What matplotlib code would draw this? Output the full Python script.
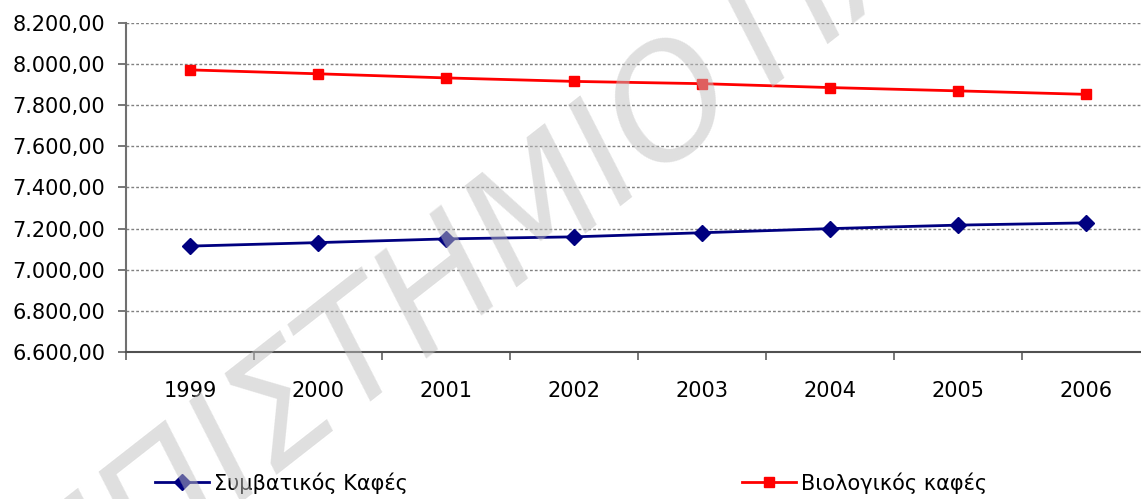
import matplotlib
matplotlib.use("Agg")
import matplotlib.pyplot as plt
from matplotlib.lines import Line2D
from matplotlib.ticker import FixedLocator, FuncFormatter

# Τιμές ανά έτος
eti = ["1999", "2000", "2001", "2002", "2003", "2004", "2005", "2006"]
symvatikos = [7115, 7132, 7150, 7160, 7180, 7200, 7217, 7228]
viologikos = [7972, 7953, 7933, 7916, 7905, 7886, 7870, 7853]

yticks = [6600, 6800, 7000, 7200, 7400, 7600, 7800, 8000, 8200]

plt.rcParams['font.family'] = ['DejaVu Sans']

fig = plt.figure(figsize=(11.41, 4.99), dpi=100)
ax = fig.add_axes([0.1104, 0.2946, 0.8975, 0.6593])

x = list(range(len(eti)))
ax.plot(x, symvatikos, color='#000080', lw=2, marker='D', ms=8, zorder=3)
ax.plot(x, viologikos, color='#ff0000', lw=2, marker='s', ms=7.5, zorder=3)

ax.set_xlim(-0.5, len(eti) - 0.5)
ax.set_ylim(6600, 8200)

# Άξονας y με ελληνική μορφή αριθμών
def greek_fmt(v, pos):
    s = f"{v:,.2f}"
    return s.replace(",", "X").replace(".", ",").replace("X", ".")

ax.yaxis.set_major_locator(FixedLocator(yticks))
ax.yaxis.set_major_formatter(FuncFormatter(greek_fmt))
ax.tick_params(axis='y', labelsize=15, length=6, width=1.2, color='#606060', pad=9)
ax.grid(axis='y', color='#808080', lw=1, linestyle=(0, (2, 1.5)))
ax.set_axisbelow(True)

# Άξονας x: γραμμές στα όρια, ετικέτες στο κέντρο
ax.xaxis.set_major_locator(FixedLocator([i - 0.5 for i in range(len(eti) + 1)]))
ax.xaxis.set_major_formatter(FuncFormatter(lambda v, p: ""))
ax.xaxis.set_minor_locator(FixedLocator(x))
ax.set_xticklabels(eti, minor=True)
ax.tick_params(axis='x', which='major', length=6, width=1.2, color='#606060')
ax.tick_params(axis='x', which='minor', length=0, labelsize=15, pad=21)

for side in ['top', 'right']:
    ax.spines[side].set_visible(False)
ax.spines['left'].set_color('#707070')
ax.spines['left'].set_linewidth(1.5)
ax.spines['bottom'].set_color('#505050')
ax.spines['bottom'].set_linewidth(1.5)

handles = [
    Line2D([], [], color='#000080', lw=2, marker='D', ms=8),
    Line2D([], [], color='#ff0000', lw=2, marker='s', ms=7.5),
]
fig.legend(handles, ["Συμβατικός Καφές", "Βιολογικός καφές"], ncol=2,
           loc='center left', bbox_to_anchor=(155 / 1141, 0.032),
           frameon=False, fontsize=15, borderpad=0, borderaxespad=0,
           handlelength=2.6, handletextpad=0.25, columnspacing=16)

# υδατογράφημα
wm = dict(fontsize=110, color='#c0c0c0', alpha=0.5, style='italic',
          rotation=38, rotation_mode='anchor', va='baseline', zorder=10)
fig.text(0.655, 0.792, "ΠΑΝΕΠΙΣΤΗΜΙΟ", ha='right', **wm)
fig.text(0.674, 0.825, "ΠΑΤΡΩΝ", ha='left', **wm)

fig.savefig("out.png", dpi=100)
